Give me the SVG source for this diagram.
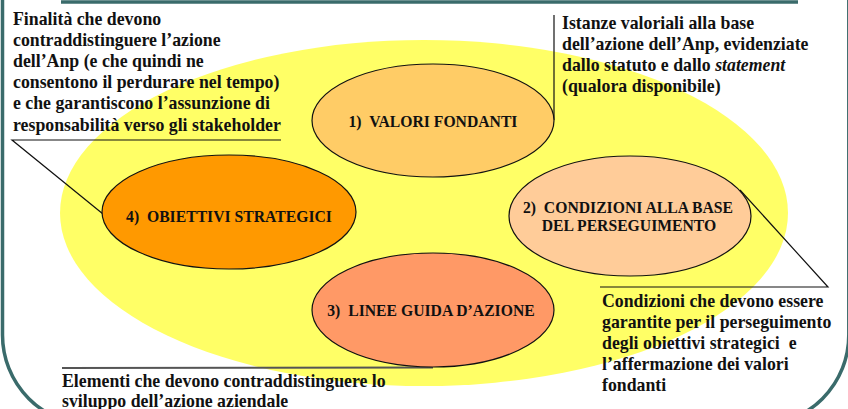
<svg xmlns="http://www.w3.org/2000/svg" width="848" height="409" viewBox="0 0 848 409">
<style>
.frame{fill:none;stroke:#3A6B6B;stroke-width:3.5}
.node{stroke:#111;stroke-width:1.2}
.lbl{font-weight:bold;font-size:15.7px;fill:#111;text-anchor:middle}
.note{font-weight:bold;font-size:17.8px;fill:#111}
.conn{fill:none;stroke:#111;stroke-width:1.2}
</style>
<rect width="848" height="409" fill="#fff"/>
<g id="frame">
<line class="frame" x1="61" y1="2" x2="798" y2="2"/>
<path class="frame" d="M2.5 0 V335 A90 90 0 0 0 92.5 425 H758.8 A90 90 0 0 0 848.8 335 V0"/>
</g>
<g id="background">
<ellipse cx="424" cy="213" rx="364" ry="173" fill="#FFFF66"/>
</g>
<g id="connectors">
<polyline class="conn" points="281,140 12,140 103,214"/>
<line class="conn" x1="554" y1="15" x2="554" y2="120"/>
<polyline class="conn" points="600,287 828,287 740,190"/>
<line x1="62" y1="368" x2="433" y2="367.5" stroke="#555" stroke-width="2"/>
</g>
<g font-family="Liberation Serif, Times New Roman, serif">
<g id="node1">
<ellipse class="node" cx="433" cy="120.5" rx="121" ry="56.5" fill="#FFCC66"/>
<text class="lbl" x="433" y="127" xml:space="preserve">1)  VALORI FONDANTI</text>
</g>
<g id="node2">
<ellipse class="node" cx="630" cy="216" rx="121" ry="60" fill="#FFCC99"/>
<text class="lbl" x="628" y="213" xml:space="preserve">2)  CONDIZIONI ALLA BASE</text>
<text class="lbl" x="629" y="231">DEL PERSEGUIMENTO</text>
</g>
<g id="node3">
<ellipse class="node" cx="433" cy="310" rx="121" ry="57" fill="#FF9966"/>
<text class="lbl" x="431" y="316" xml:space="preserve">3)  LINEE GUIDA D’AZIONE</text>
</g>
<g id="node4">
<ellipse class="node" cx="229" cy="212" rx="127" ry="57" fill="#FF9900"/>
<text class="lbl" x="229" y="222" xml:space="preserve">4)  OBIETTIVI STRATEGICI</text>
</g>
<g id="note-finalita">
<text class="note" x="13" y="24.5">Finalità che devono</text>
<text class="note" x="13" y="45.7">contraddistinguere l’azione</text>
<text class="note" x="13" y="66.9">dell’Anp (e che quindi ne</text>
<text class="note" x="13" y="88.1">consentono il perdurare nel tempo)</text>
<text class="note" x="13" y="109.3">e che garantiscono l’assunzione di</text>
<text class="note" x="13" y="130.5">responsabilità verso gli stakeholder</text>
</g>
<g id="note-istanze">
<text class="note" x="562" y="29">Istanze valoriali alla base</text>
<text class="note" x="562" y="50">dell’azione dell’Anp, evidenziate</text>
<text class="note" x="562" y="71">dallo statuto e dallo <tspan font-style="italic">statement</tspan></text>
<text class="note" x="562" y="92">(qualora disponibile)</text>
</g>
<g id="note-condizioni">
<text class="note" x="602" y="307">Condizioni che devono essere</text>
<text class="note" x="602" y="328">garantite per il perseguimento</text>
<text class="note" x="602" y="349" xml:space="preserve">degli obiettivi strategici  e</text>
<text class="note" x="602" y="370">l’affermazione dei valori</text>
<text class="note" x="602" y="391">fondanti</text>
</g>
<g id="note-elementi">
<text class="note" x="62" y="387">Elementi che devono contraddistinguere lo</text>
<text class="note" x="62" y="407">sviluppo dell’azione aziendale</text>
</g>
</g>
</svg>
